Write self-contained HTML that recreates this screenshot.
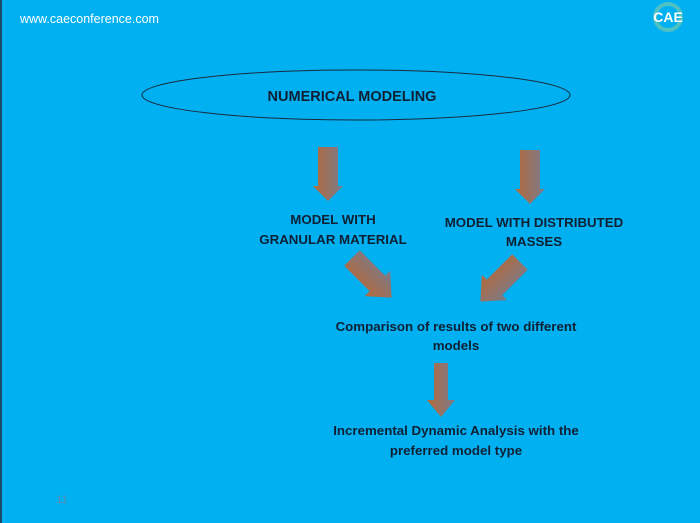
<!DOCTYPE html>
<html><head><meta charset="utf-8"><style>
html,body{margin:0;padding:0;}
body{width:700px;height:523px;background:#00b0f0;overflow:hidden;position:relative;}
svg{position:absolute;left:0;top:0;}
</style></head><body>
<svg width="700" height="523" viewBox="0 0 700 523" xmlns="http://www.w3.org/2000/svg">
<defs>
<linearGradient id="g" x1="0" y1="0" x2="1" y2="0">
<stop offset="0" stop-color="#b56a3a"/><stop offset="1" stop-color="#7a7a8a"/>
</linearGradient>
</defs>
<rect x="0" y="0" width="2" height="523" fill="#1b4a6a"/>
<text x="20" y="23" font-family="Liberation Sans, sans-serif" font-size="12.5" fill="#ffffff">www.caeconference.com</text>
<g transform="translate(668,15)">
<circle cx="0" cy="2" r="13" fill="none" stroke="#6fc9b0" stroke-width="4" opacity="0.7"/>
<text x="0" y="7" text-anchor="middle" font-family="Liberation Sans, sans-serif" font-weight="bold" font-size="14" fill="#ffffff">CAE</text>
</g>
<ellipse cx="356" cy="95" rx="214" ry="25" fill="none" stroke="#1a2a40" stroke-width="1"/>
<g font-family="Liberation Sans, sans-serif" font-weight="bold" fill="#0f2035" text-anchor="middle">
<text x="352" y="101" font-size="14.5">NUMERICAL MODELING</text>
<g font-size="13.3">
<text x="333" y="224">MODEL WITH</text>
<text x="333" y="244">GRANULAR MATERIAL</text>
<text x="534" y="227">MODEL WITH DISTRIBUTED</text>
<text x="534" y="246">MASSES</text>
<text x="456" y="331">Comparison of results of two different</text>
<text x="456" y="350">models</text>
<text x="456" y="435">Incremental Dynamic Analysis with the</text>
<text x="456" y="455">preferred model type</text>
</g>
</g>
<g fill="url(#g)">
<polygon points="-10,0 10,0 10,39 15,39 0,54 -15,39 -10,39" transform="translate(328,147)"/>
<polygon points="-10,0 10,0 10,39 15,39 0,54 -15,39 -10,39" transform="translate(530,150)"/>
<polygon points="-7,0 7,0 7,37 14,37 0,54 -14,37 -7,37" transform="translate(441,363)"/>
<polygon points="-11,0 11,0 11,36 18,36 0,56 -18,36 -11,36" transform="translate(352,258) rotate(-45)"/>
<polygon points="-11,0 11,0 11,36 18,36 0,56 -18,36 -11,36" transform="translate(520,262) rotate(45)"/>
</g>
<text x="62" y="503" text-anchor="middle" font-family="Liberation Sans, sans-serif" font-size="11" fill="#5a8ab0">11</text>
</svg>
</body></html>
